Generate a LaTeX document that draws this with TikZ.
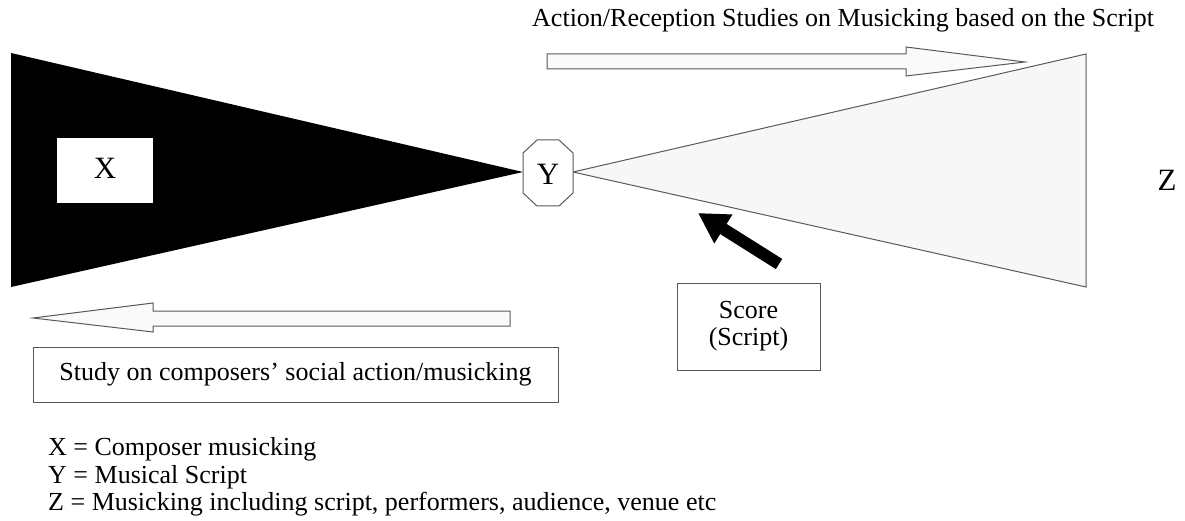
\documentclass[tikz,border=0pt]{standalone}
\usepackage{fontspec}
\setmainfont{Liberation Serif}
\usetikzlibrary{arrows.meta}
\begin{document}
\begin{tikzpicture}[x=1pt,y=-1pt,
  outline/.style={draw=black!65, line width=1pt},
  hollow/.style={outline, fill=black!2},
  txt/.style={inner sep=0pt, font=\fontsize{26}{27}\selectfont},
  letter/.style={inner sep=0pt, font=\fontsize{31}{32}\selectfont},
  labelbox/.style={outline, fill=white, inner sep=0pt, font=\fontsize{26}{27}\selectfont, align=center}]
\useasboundingbox (0,0) rectangle (1185,521);

% composer side: solid wedge narrowing to the script
\fill[black] (11,53) -- (523,172) -- (11,287) -- cycle;
% musicking side: pale wedge widening from the script
\draw[outline, fill=black!3] (573,172) -- (1086,54) -- (1086,287) -- cycle;

% X inside the dark wedge
\node[fill=white, minimum width=96pt, minimum height=65pt, inner sep=0pt] (xbox) at (105,170.5) {};
\node[letter] (x) at (105,168) {X};

% Y: the octagonal script
\draw[outline, fill=white] (537,140) -- (559,140) -- (573,153) -- (573,193) -- (559,206)
  -- (537,206) -- (523,193) -- (523,153) -- cycle;
\node[letter] (y) at (548,174) {Y};

% Z at the open end
\node[letter] (z) at (1167,180) {Z};

% reception studies arrow (left to right)
\draw[hollow] (547,54) -- (906,54) -- (906,47) -- (1025,62) -- (906,76) -- (906,69) -- (547,69) -- cycle;
\node[txt, anchor=base west] (top) at (532,27) {Action/Reception Studies on Musicking based on the Script};

% composer studies arrow (right to left)
\draw[hollow] (510,311) -- (153,311) -- (153,303) -- (33,318) -- (153,332) -- (153,326) -- (510,326) -- cycle;
\node[labelbox, minimum width=525pt, minimum height=55pt] (study) at (295.5,374.5) {Study on composers’ social action/musicking};

% score box pushing into the musicking wedge
\node[labelbox, minimum width=143pt, minimum height=87pt] (score) at (748.5,326.5) {Score\\(Script)};
\coordinate (push) at (779,264);
\coordinate (hit) at (698,213);
\draw[line width=12pt, -{Triangle[length=30pt,width=32pt]}] (push) -- (hit);

% legend
\node[txt, anchor=base west] (lx) at (48,455) {X = Composer musicking};
\node[txt, anchor=base west] (ly) at (48,483) {Y = Musical Script};
\node[txt, anchor=base west] (lz) at (48,510) {Z = Musicking including script, performers, audience, venue etc};
\end{tikzpicture}
\end{document}
